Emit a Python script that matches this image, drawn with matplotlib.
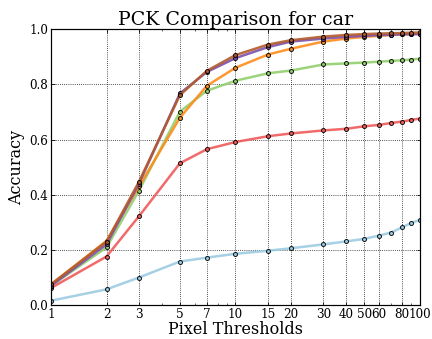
import matplotlib
matplotlib.use("Agg")
from matplotlib import pyplot as plt

# Data: PCK for car at several pixel thresholds
thresholds = [1, 2, 3, 5, 7, 10, 15, 20, 30, 40, 50, 60, 70, 80, 90, 100]
tick_vals = [1, 2, 3, 5, 7, 10, 15, 20, 30, 40, 50, 60, 80, 100]

pck_blue = [0.016, 0.057, 0.100, 0.158, 0.172, 0.186, 0.197, 0.206, 0.220, 0.231,
            0.240, 0.252, 0.263, 0.282, 0.298, 0.309]
pck_red = [0.062, 0.176, 0.322, 0.514, 0.565, 0.591, 0.612, 0.622, 0.633, 0.639,
           0.648, 0.653, 0.660, 0.665, 0.671, 0.676]
pck_green = [0.070, 0.209, 0.415, 0.701, 0.777, 0.813, 0.840, 0.850, 0.872, 0.876,
             0.879, 0.882, 0.885, 0.887, 0.890, 0.893]
pck_orange = [0.075, 0.233, 0.430, 0.679, 0.795, 0.860, 0.908, 0.929, 0.955, 0.966,
              0.972, 0.976, 0.979, 0.981, 0.982, 0.983]
pck_purple = [0.070, 0.220, 0.440, 0.767, 0.845, 0.895, 0.935, 0.955, 0.966, 0.972,
              0.976, 0.978, 0.980, 0.981, 0.982, 0.982]
pck_brown = [0.075, 0.230, 0.447, 0.761, 0.849, 0.906, 0.944, 0.960, 0.973, 0.979,
             0.982, 0.984, 0.985, 0.986, 0.987, 0.988]

series = [pck_blue, pck_red, pck_green, pck_orange, pck_purple, pck_brown]
colors = ['#9ccbe2', '#f05a5a', '#92cf6c', '#ff8c1a', '#7d4fac', '#b25a2a']

plt.rcParams['font.family'] = 'DejaVu Serif'
plt.rcParams['xtick.direction'] = 'in'
plt.rcParams['ytick.direction'] = 'in'
plt.rcParams['xtick.top'] = True
plt.rcParams['ytick.right'] = True

fig = plt.figure(figsize=(6, 339 / 72), dpi=72)
ax = fig.add_axes([0.118, 0.100, 0.854, 0.814])

for vals, c in zip(series, colors):
    ax.plot(thresholds, vals, color=c, lw=2.5, alpha=0.9,
            marker='o', ms=4, mfc=c, mec='black', mew=1)

ax.set_xscale('log')
ax.set_xlim(1, 100)
ax.set_ylim(0, 1.0)
ax.set_xticks(tick_vals)
ax.set_xticklabels([str(t) for t in tick_vals])
ax.set_yticks([0, 0.2, 0.4, 0.6, 0.8, 1.0])
ax.tick_params(labelsize=12, pad=3)
ax.grid(True, color='black', linestyle=':', linewidth=0.8)
for s in ax.spines.values():
    s.set_linewidth(1.2)

ax.set_title("PCK Comparison for car", fontsize=19, pad=1)
ax.set_xlabel("Pixel Thresholds", fontsize=16, labelpad=0)
ax.set_ylabel("Accuracy", fontsize=16, labelpad=4)

plt.savefig("out.png", dpi=72)
